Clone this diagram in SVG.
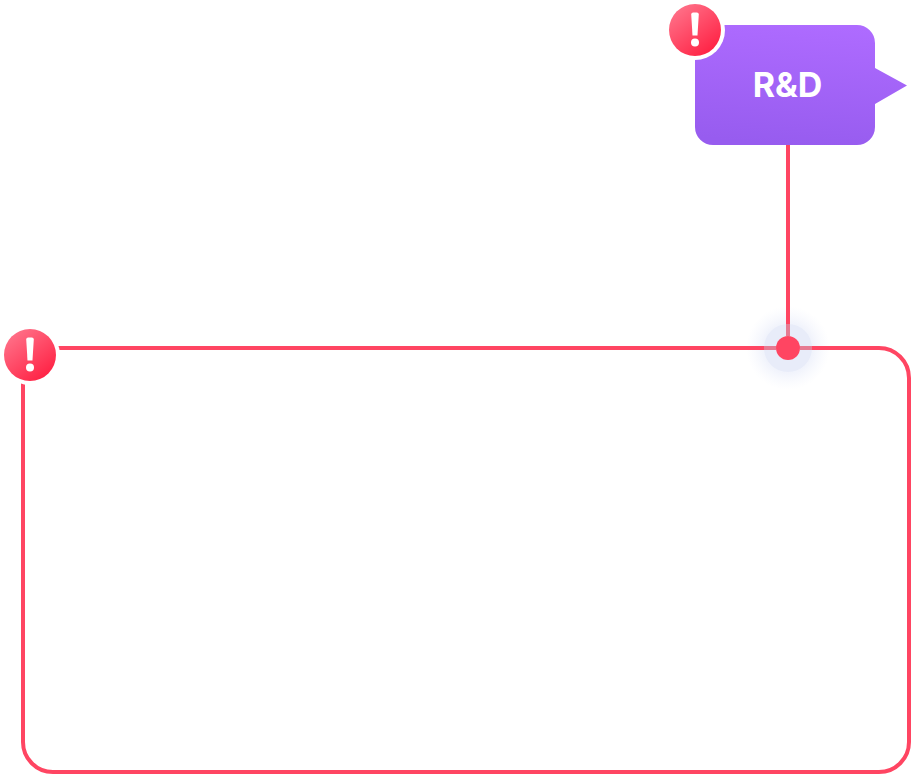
<svg xmlns="http://www.w3.org/2000/svg" width="911" height="774" viewBox="0 0 911 774">
<style>
.wire{fill:none;stroke:#ff4562;stroke-width:4}
.ring{fill:#fff}
.bang{fill:#fff}
.label{font-family:"Inter","Noto Sans","Liberation Sans",sans-serif;font-size:34px;font-weight:700;fill:#fff;text-anchor:middle}
</style>
<defs>
<linearGradient id="purple" x1="0.6" y1="0" x2="0.45" y2="1"><stop offset="0" stop-color="#ae6bff"/><stop offset="1" stop-color="#975cef"/></linearGradient>
<linearGradient id="red" x1="0.15" y1="0.1" x2="0.8" y2="0.95"><stop offset="0" stop-color="#ff6f87"/><stop offset="1" stop-color="#ff2244"/></linearGradient>
<radialGradient id="halo"><stop offset="0" stop-color="#eef1fb"/><stop offset="0.6" stop-color="#eef1fb" stop-opacity="0.8"/><stop offset="1" stop-color="#f4f6fd" stop-opacity="0"/></radialGradient>
<g id="alert"><circle r="26" fill="url(#red)"/><path class="bang" d="M-3.800-15.500Q-3.800-17.500-1.800-17.500H1.800Q3.800-17.500 3.800-15.500L2.500 5.500H-2.500Z"/><circle class="bang" cy="12.500" r="4"/></g>
</defs>
<rect width="911" height="774" fill="#fff"/>
<g id="junction-glow">
<circle cx="788" cy="348" r="42" fill="url(#halo)"/>
</g>
<g id="connectors">
<path class="wire" d="M788 145V348"/>
</g>
<g id="container">
<rect class="wire" x="23" y="348" width="886" height="424" rx="30"/>
<circle class="ring" cx="30" cy="355" r="30"/>
<use href="#alert" x="30" y="355"/>
</g>
<g id="junction">
<circle cx="788" cy="348" r="24" fill="#e8ecf9"/>
<path d="M788 324V336M764 348H776M800 348H812" stroke="#e67a92" stroke-width="4" fill="none"/>
<circle cx="788" cy="348" r="12" fill="#ff4562"/>
</g>
<g id="rd">
<path d="M713 25H857A18 18 0 0 1 875 43V68L907 85.500L875 104V127A18 18 0 0 1 857 145H713A18 18 0 0 1 695 127V43A18 18 0 0 1 713 25Z" fill="url(#purple)"/>
<text class="label" x="787.500" y="96.500">R&amp;D</text>
<circle class="ring" cx="695" cy="30" r="30"/>
<use href="#alert" x="695" y="30"/>
</g>
</svg>
